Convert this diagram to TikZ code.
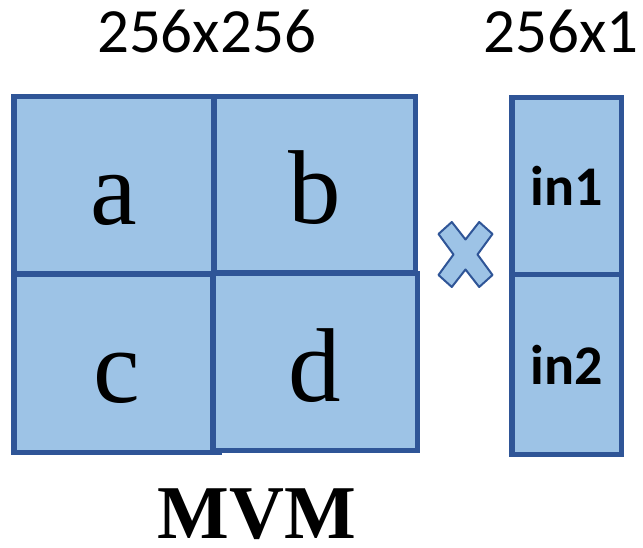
\documentclass[tikz,border=0pt]{standalone}
\usepackage{fontspec}
\usepackage{tikz}
\usetikzlibrary{positioning}
\setmainfont{Liberation Serif}
\newfontfamily\calibri{Carlito}
\definecolor{blockFill}{HTML}{9DC3E6}
\definecolor{blockFrame}{HTML}{2F5597}

\begin{document}
\begin{tikzpicture}[x=1pt,y=-1pt,
    blockcell/.style={draw=blockFrame,fill=blockFill,line width=5.5pt,inner sep=0pt,
      text height=78pt,text depth=0pt,font=\fontsize{105}{110}\selectfont},
    vectorcell/.style={blockcell,minimum width=109.5pt,text height=39pt,
      font=\calibri\bfseries\fontsize{56}{60}\selectfont},
    dimlabel/.style={anchor=base,inner sep=0pt,font=\calibri\fontsize{63}{66}\selectfont}]
  \useasboundingbox (0,0) rectangle (643,548);
  % matrix blocks, drawn a, b, c, d so that d lies on top of c
  \foreach \name/\cx/\cy/\w/\h in {a/113.5/185.5/199.5/177.5,b/314.5/185/201.5/176.5,
                                    c/116.5/363.5/205.5/177.5,d/315/362/204.5/176.5} {
    \node[blockcell,minimum width=\w pt,minimum height=\h pt] (\name) at (\cx,\cy) {\name};
  }
  % input vector
  \node[vectorcell,minimum height=177.5pt] (in1) at (566.5,186.5) {in1};
  \node[vectorcell,minimum height=179.5pt] (in2) at (566.5,364.5) {in2};
  % times sign between the two
  \draw[blockFrame,fill=blockFill,line width=2pt,line join=round,shift={(465.5,254.5)}]
    (-27,-20.5) -- (-13.7,-32.5) -- (0,-15) -- (13.7,-32.5) -- (27,-20.5) -- (12,0)
    -- (27,20.5) -- (13.7,32.5) -- (0,15) -- (-13.7,32.5) -- (-27,20.5) -- (-12,0) -- cycle;
  \node[dimlabel] (matdim) at (206.5,53) {256x256};
  \node[dimlabel] (vecdim) at (561,53) {256x1};
  \node[anchor=base,inner sep=0pt,font=\bfseries\fontsize{76}{80}\selectfont] (mvm) at (257,538) {MVM};
\end{tikzpicture}
\end{document}
